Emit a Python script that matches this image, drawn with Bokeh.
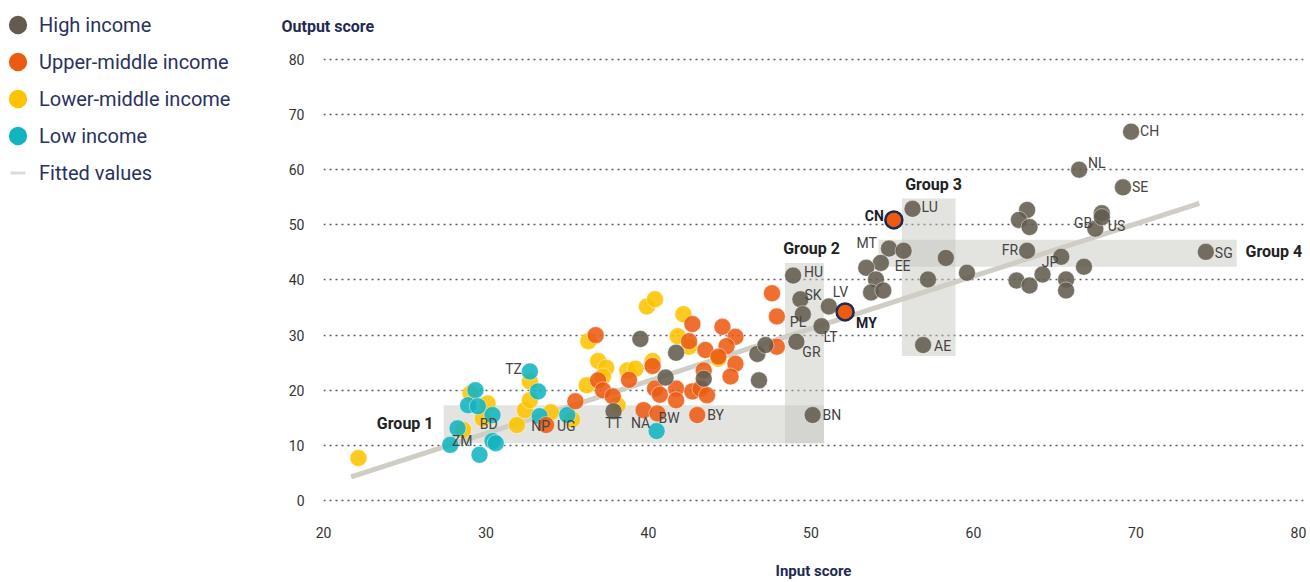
from bokeh.plotting import figure
from bokeh.models import ColumnDataSource, Legend, LegendItem, Label, Range1d, FixedTicker
from bokeh.layouts import row
from bokeh.core.properties import value
from bokeh.embed import file_html
from bokeh.resources import INLINE

# ---------------- data ----------------
hi_x = [37.85, 39.5, 41.7, 41.05, 43.4, 46.7, 47.2, 46.8, 48.9, 49.35,
        49.5, 49.1, 50.1, 50.65, 51.1, 56.25, 54.8, 55.7, 58.3, 54.3,
        53.4, 54.0, 53.7, 54.45, 57.2, 56.9, 59.6, 63.3, 62.8, 63.45,
        63.3, 62.65, 63.45, 64.25, 65.4, 66.8, 65.7, 65.7, 67.5, 67.9,
        67.9, 66.5, 69.2, 69.7, 74.3]
hi_y = [16.2, 29.3, 26.8, 22.3, 22.1, 26.6, 28.2, 21.8, 40.8, 36.5,
        33.8, 28.8, 15.5, 31.6, 35.2, 52.9, 45.7, 45.3, 44.0, 43.1,
        42.2, 40.1, 37.75, 38.1, 40.1, 28.2, 41.3, 52.7, 50.9, 49.6,
        45.3, 39.9, 39.0, 41.0, 44.2, 42.4, 40.1, 38.1, 49.3, 52.1,
        51.4, 60.0, 56.8, 66.9, 45.1]
hi_code = ["TT", "", "", "", "", "", "", "", "HU", "SK",
           "", "GR", "BN", "LT", "LV", "LU", "MT", "EE", "", "",
           "", "", "", "", "", "AE", "", "", "", "",
           "FR", "", "", "", "JP", "", "", "", "GB", "",
           "US", "NL", "SE", "CH", "SG"]

um_x = [33.7, 35.5, 36.75, 36.9, 37.2, 37.8, 38.8, 40.25, 39.7, 40.55,
        40.4, 40.7, 41.7, 41.7, 42.7, 42.5, 43.5, 44.55, 45.35, 44.8,
        44.3, 45.35, 45.05, 43.4, 42.7, 43.2, 43.6, 43.0, 47.6, 47.9,
        47.9]
um_y = [13.7, 18.0, 30.0, 21.8, 20.0, 18.9, 21.9, 24.4, 16.4, 15.8,
        20.3, 19.2, 20.3, 18.2, 32.0, 28.9, 27.3, 31.5, 29.7, 28.0,
        26.1, 24.8, 22.5, 23.6, 19.8, 20.3, 19.1, 15.5, 37.6, 33.4,
        27.9]
um_code = ["", "", "", "", "", "", "", "", "NA", "BW",
           "", "", "", "", "", "", "", "", "", "",
           "", "", "", "", "", "", "", "BY", "", "PL",
           ""]

lm_x = [22.15, 29.05, 30.1, 29.8, 28.6, 31.9, 32.4, 32.7, 32.7, 34.0,
        35.3, 36.3, 36.9, 37.4, 36.2, 37.2, 38.1, 38.7, 39.2, 39.9,
        40.4, 40.25, 42.15, 41.8, 42.5, 44.3]
lm_y = [7.7, 19.4, 17.6, 14.9, 12.8, 13.7, 16.4, 18.2, 21.6, 16.0,
        14.7, 28.9, 25.3, 24.1, 20.9, 22.5, 17.3, 23.6, 23.9, 35.2,
        36.5, 25.3, 33.8, 29.8, 27.9, 25.7]
lm_code = ["", "", "", "BD", "ZM", "", "", "", "", "",
           "", "", "", "", "", "", "", "", "", "",
           "", "", "", "", "", ""]

lo_x = [29.35, 28.9, 29.5, 30.4, 28.25, 27.8, 30.4, 30.6, 29.6, 32.7,
        33.2, 33.3, 35.0, 40.5]
lo_y = [20.0, 17.3, 17.1, 15.5, 13.1, 10.1, 10.8, 10.4, 8.3, 23.4,
        19.8, 15.3, 15.5, 12.6]
lo_code = ["", "", "", "", "", "", "", "", "", "TZ",
           "", "NP", "UG", ""]

hl_x = [55.1, 52.1]
hl_y = [50.9, 34.2]
hl_code = ["CN", "MY"]

fit_x = [21.7, 73.9]
fit_y = [4.3, 53.9]

grp_names = ["Group 1", "Group 2", "Group 3", "Group 4"]
grp_left = [27.4, 48.4, 55.6, 54.15]
grp_right = [50.8, 50.8, 58.9, 76.2]
grp_bottom = [10.4, 10.4, 26.2, 42.4]
grp_top = [17.3, 43.1, 54.8, 47.3]

legend_labels = ["High income", "Upper-middle income", "Lower-middle income",
                 "Low income", "Fitted values"]

y_ticks = [0, 10, 20, 30, 40, 50, 60, 70, 80]
x_ticks = [20, 30, 40, 50, 60, 70, 80]

# ---------------- styles ----------------
C_HI = "#635c4e"
C_UM = "#ec5b12"
C_LM = "#fdc300"
C_LO = "#12b4bf"
C_FIT = "#cfcdc4"
NAVY = "#1f2a52"
SANS = "Roboto"

# label offsets: code -> (dx px, dy px downward, align)
LABEL_STYLE = {
    "CH": (9, -1, "left"), "NL": (9, -7, "left"), "SE": (9, 0, "left"),
    "GB": (-3, -6, "right"), "US": (6, 9, "left"), "FR": (-9, -1, "right"),
    "JP": (-3, 5, "right"), "SG": (9, 1, "left"), "LU": (9, -2, "left"),
    "MT": (-12, -6, "right"), "EE": (-1, 15, "center"), "AE": (11, 1, "left"),
    "HU": (11, -4, "left"), "SK": (4, -4, "left"), "LV": (4, -14, "left"),
    "PL": (13, 6, "left"), "LT": (2, 11, "left"), "GR": (6, 10, "left"),
    "BN": (10, 0, "left"), "BY": (10, 0, "left"), "BW": (1, 5, "left"),
    "NA": (-3, 13, "center"), "TT": (0, 12, "center"), "UG": (-1, 11, "center"),
    "NP": (1, 10, "center"), "TZ": (-8, -3, "right"), "BD": (6, 6, "center"),
    "ZM": (-1, 11, "center"), "CN": (-10, -4, "right"), "MY": (11, 11, "left"),
}
GROUP_LABEL_POS = {
    "Group 1": (26.77, 14.0, "right"),
    "Group 2": (50.03, 45.8, "center"),
    "Group 3": (57.54, 57.3, "center"),
    "Group 4": (76.74, 45.1, "left"),
}

LEG_W = 280
W, H = 1310 - LEG_W, 582

# ---------------- main chart ----------------
p = figure(width=W, height=H, output_backend="svg", toolbar_location=None,
           x_range=Range1d(20, 80.31), y_range=Range1d(-1.44, 81.8),
           min_border_left=323 - LEG_W, min_border_right=7, min_border_top=48,
           min_border_bottom=71)
p.outline_line_color = None
p.background_fill_color = "white"

for ax in (p.xaxis[0], p.yaxis[0]):
    ax.axis_line_color = None
    ax.major_tick_line_color = None
    ax.minor_tick_line_color = None
    ax.major_label_text_font = SANS
    ax.major_label_text_font_size = "14px"
    ax.major_label_text_color = "#333333"
p.yaxis.major_label_standoff = 13
p.xaxis.major_label_standoff = 12
p.yaxis.ticker = FixedTicker(ticks=y_ticks)
p.xaxis.ticker = FixedTicker(ticks=x_ticks)
p.xaxis.axis_label = "Input score"
p.xaxis.axis_label_text_font = SANS
p.xaxis.axis_label_text_font_style = "bold"
p.xaxis.axis_label_text_font_size = "15px"
p.xaxis.axis_label_text_color = NAVY
p.xaxis.axis_label_standoff = 21

p.xgrid.grid_line_color = None
p.ygrid.grid_line_color = "#5a5a5a"
p.ygrid.grid_line_dash = "2 4"
p.ygrid.grid_line_width = 1.5

p.title.text = "Output score"
p.title.align = "left"
p.title.offset = -42
p.title.text_font = SANS
p.title.text_font_style = "bold"
p.title.text_font_size = "16px"
p.title.text_color = NAVY
p.title.standoff = 28

p.quad(left=grp_left, right=grp_right, bottom=grp_bottom, top=grp_top,
       fill_color="#c4c4bf", fill_alpha=0.48, line_color=None)

p.line(fit_x, fit_y, line_color=C_FIT, line_width=5)

def pts(xs, ys, color):
    return p.scatter(xs, ys, size=17, fill_color=color, fill_alpha=0.88,
                     line_color="white", line_alpha=0.45, line_width=1)

pts(lm_x, lm_y, C_LM)
pts(lo_x, lo_y, C_LO)
pts(um_x, um_y, C_UM)
pts(hi_x, hi_y, C_HI)
p.scatter(hl_x, hl_y, size=17, fill_color=C_UM, line_color=NAVY, line_width=2.5)

rows = {"left": ([], [], [], [], []), "right": ([], [], [], [], []),
        "center": ([], [], [], [], [])}
for xs, ys, codes in ((hi_x, hi_y, hi_code), (um_x, um_y, um_code),
                      (lm_x, lm_y, lm_code), (lo_x, lo_y, lo_code)):
    for xv, yv, c in zip(xs, ys, codes):
        if c:
            dx, dy, al = LABEL_STYLE[c]
            r = rows[al]
            r[0].append(xv); r[1].append(yv); r[2].append(c)
            r[3].append(dx); r[4].append(dy)
for al, (xs, ys, ts, dxs, dys) in rows.items():
    src = ColumnDataSource(dict(x=xs, y=ys, t=ts, dx=dxs, dy=dys))
    p.text(x="x", y="y", text="t", x_offset="dx", y_offset="dy", source=src,
           text_align=al, text_baseline="middle", text_font=value(SANS),
           text_font_size="14px", text_color="#444444")

for xv, yv, c in zip(hl_x, hl_y, hl_code):
    dx, dy, al = LABEL_STYLE[c]
    p.add_layout(Label(x=xv, y=yv, text=c, x_offset=dx, y_offset=-dy,
                       text_align=al, text_baseline="middle", text_font=SANS,
                       text_font_style="bold", text_font_size="14px",
                       text_color="#1c1c2a"))

for g in grp_names:
    gx, gy, al = GROUP_LABEL_POS[g]
    p.add_layout(Label(x=gx, y=gy, text=g, text_align=al, text_baseline="middle",
                       text_font=SANS, text_font_style="bold",
                       text_font_size="16px", text_color="#222222"))

# ---------------- legend panel ----------------
lp = figure(width=LEG_W, height=H, output_backend="svg", toolbar_location=None,
            title=None, x_range=Range1d(0, 1), y_range=Range1d(0, 1),
            x_axis_location=None, y_axis_location=None, min_border=0)
lp.outline_line_color = None
lp.grid.visible = False

aligned = True
for fig in (lp, p):
    if "frame_align" in fig.properties():
        fig.frame_align = False
        aligned = False

nan = [float("nan")]
proxies = []
for col in (C_HI, C_UM, C_LM, C_LO):
    proxies.append(lp.scatter(nan, nan, size=15, fill_color=col, line_color=col,
                              line_width=3.5))
proxies.append(lp.scatter(nan, nan, marker="dash", size=15, line_color="#dddbd4",
                          line_width=3))

leg = Legend(items=[LegendItem(label=t, renderers=[r])
                    for t, r in zip(legend_labels, proxies)],
             location=(-1, 319 if aligned else 391))
leg.border_line_color = None
leg.background_fill_alpha = 0
leg.label_text_font = SANS
leg.label_text_font_size = "20px"
leg.label_text_color = "#2a3160"
leg.padding = 0
leg.margin = 0
leg.spacing = 0
leg.glyph_width = 37
leg.glyph_height = 37
leg.label_height = 20
leg.label_standoff = 3
lp.add_layout(leg)

layout = row(lp, p)
open("out.html", "w").write(file_html(layout, INLINE))
